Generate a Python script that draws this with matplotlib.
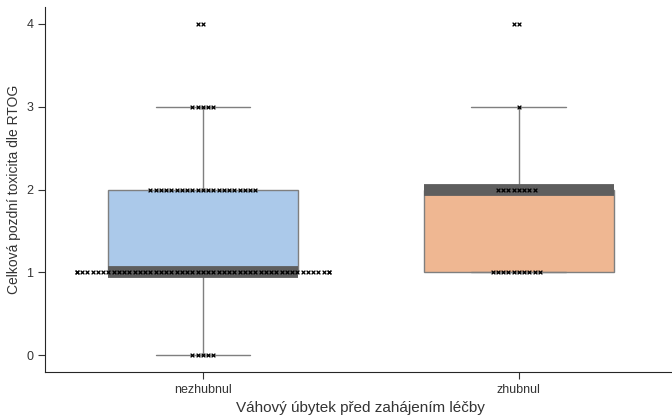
import matplotlib
matplotlib.use("Agg")
import matplotlib.pyplot as plt
import seaborn as sns
import pandas as pd

# number of patients at each toxicity grade
groups = ["nezhubnul", "zhubnul"]
grades = [0, 1, 2, 3, 4]
counts_nezhubnul = [5, 51, 21, 5, 2]
counts_zhubnul = [0, 10, 8, 1, 2]

rows = []
for g, counts in zip(groups, [counts_nezhubnul, counts_zhubnul]):
    for grade, n in zip(grades, counts):
        rows += [(g, grade)] * n
df = pd.DataFrame(rows, columns=["weight", "tox"])

sns.set_style("ticks")
plt.rcParams["font.family"] = ["Liberation Sans", "DejaVu Sans"]

fig = plt.figure(figsize=(6.72, 4.17), dpi=100)
ax = fig.add_axes([0.067, 0.108, 0.94, 0.875])

sns.boxplot(data=df, x="weight", y="tox", hue="weight", order=groups,
            palette="pastel", width=0.6, showfliers=False, linewidth=1,
            linecolor="#7f7f7f",
            medianprops=dict(color="#5e5e5e", linewidth=8.5), ax=ax, legend=False)
sns.swarmplot(data=df, x="weight", y="tox", order=groups, color="black",
              marker="x", size=2.7, linewidth=0.9, ax=ax, warn_thresh=1)

ax.set_xlim(-0.5, 1.5)
ax.set_ylim(-0.2, 4.2)
ax.set_yticks(grades)
ax.tick_params(labelsize=9, colors="#333333", length=5)
ax.set_xlabel("Váhový úbytek před zahájením léčby", fontsize=11, color="#333333")
ax.set_ylabel("Celková pozdní toxicita dle RTOG", fontsize=10, color="#333333")
sns.despine(ax=ax)

fig.savefig("out.png", dpi=100)
